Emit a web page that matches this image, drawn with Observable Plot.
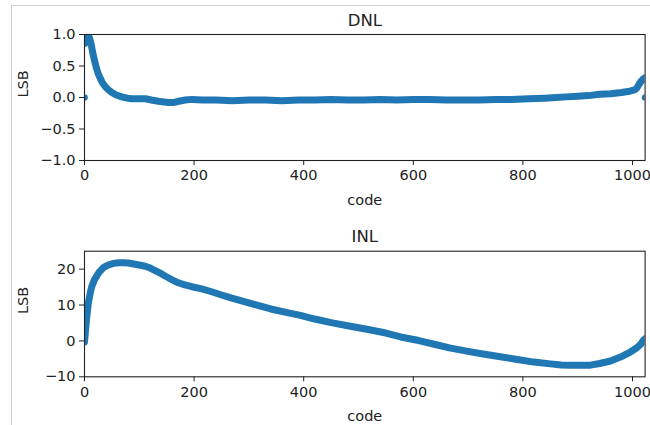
<!DOCTYPE html>
<html><head><meta charset="utf-8">
<script src="https://cdn.jsdelivr.net/npm/d3@7"></script>
<script src="https://cdn.jsdelivr.net/npm/@observablehq/plot@0.6"></script>
<style>
body{margin:0;background:#fff;width:650px;height:425px;overflow:hidden;}
#frame{position:absolute;left:11px;top:5px;width:700px;height:500px;border-top:1px solid #cfcfcf;border-left:1px solid #cfcfcf;}
#dnl{position:absolute;left:0;top:0;}
#inl{position:absolute;left:0;top:210px;}
</style></head><body>
<div id="frame"></div>
<div id="dnl"></div><div id="inl"></div>
<script>
// DNL (LSB) per code (codes 0 and 1023 are isolated points)
const dnlCodes = [0,1,3,6,9,12,14,16,19,22,25,29,33,38,44,50,58,68,78,86,96,111,122,135,145,153,162,172,184,196,215,240,270,300,330,360,390,420,450,480,510,540,570,600,630,660,690,720,750,780,810,840,860,880,900,920,940,960,980,995,1004,1008,1012,1016,1019,1022,1023];
const dnlValues = [0,0.86,0.97,0.99,0.95,0.85,0.76,0.67,0.56,0.46,0.38,0.30,0.23,0.17,0.12,0.08,0.04,0.01,-0.01,-0.02,-0.02,-0.02,-0.04,-0.06,-0.07,-0.08,-0.08,-0.06,-0.04,-0.03,-0.04,-0.04,-0.05,-0.04,-0.04,-0.05,-0.04,-0.04,-0.03,-0.04,-0.04,-0.03,-0.04,-0.03,-0.03,-0.04,-0.04,-0.04,-0.03,-0.03,-0.02,-0.01,0.00,0.01,0.02,0.03,0.05,0.06,0.08,0.10,0.12,0.15,0.21,0.26,0.29,0.31,0];
// INL (LSB) per code
const inlCodes = [0,2,4,7,10,13,18,26,35,44,53,62,71,80,95,111,120,129,138,147,159,171,183,196,214,232,250,269,290,311,340,370,394,420,450,485,520,550,577,610,640,668,700,730,759,790,820,850,870,887,905,923,940,960,978,996,1008,1015,1020,1023];
const inlValues = [-0.3,3.2,6.5,10.5,13,15,17,19,20.5,21.2,21.6,21.8,21.8,21.7,21.3,20.8,20.3,19.6,18.9,18.1,17.1,16.2,15.6,15.1,14.5,13.7,12.8,11.9,11.0,10.1,8.9,7.9,7.1,6.1,5.1,4.1,3.1,2.2,1.1,0.1,-1.0,-2.0,-2.9,-3.7,-4.4,-5.2,-5.9,-6.4,-6.7,-6.8,-6.8,-6.75,-6.3,-5.6,-4.5,-3.1,-1.9,-0.9,0.2,0.6];
const xTicks = [0,200,400,600,800,1000];
const dnlTicks = [-1,-0.5,0,0.5,1];
const inlTicks = [-10,0,10,20];

const blue = "#1f77b4";
const ink = "#222";

function panel({title, codes, values, isolated, yDomain, yTicks, yFormat, height, marginTop, marginBottom}) {
  const data = codes.map((c, i) => ({code: c, v: values[i]}));
  const lineData = data.filter(d => !isolated.includes(d.code));
  const dotData = data.filter(d => isolated.includes(d.code));
  return Plot.plot({
    width: 650, height, marginLeft: 84, marginRight: 5.4, marginTop, marginBottom,
    style: {fontFamily: "DejaVu Sans", fontSize: "14.5px", color: ink, background: "transparent", overflow: "visible"},
    x: {domain: [0, 1023]},
    y: {domain: yDomain},
    marks: [
      Plot.line(lineData, {x: "code", y: "v", stroke: blue, strokeWidth: 7, clip: true}),
      Plot.dot(dotData, {x: "code", y: "v", r: 3.3, fill: blue, stroke: "none", clip: true}),
      Plot.frame({stroke: ink, strokeWidth: 1.1}),
      Plot.axisX({ticks: xTicks, tickFormat: d3.format("d"), tickSize: 5, tickPadding: 4.5, label: null}),
      Plot.axisY({ticks: yTicks, tickFormat: yFormat, tickSize: 5, tickPadding: 4, label: null}),
      Plot.text([title], {text: d => d, frameAnchor: "top", lineAnchor: "bottom", dy: -9, fontSize: 16.5}),
      Plot.text(["code"], {text: d => d, frameAnchor: "bottom", lineAnchor: "middle", dy: 40, fontSize: 14.5}),
      Plot.text(["LSB"], {text: d => d, frameAnchor: "left", rotate: -90, dx: -61, fontSize: 14.5})
    ]
  });
}

document.getElementById("dnl").append(panel({
  title: "DNL", codes: dnlCodes, values: dnlValues, isolated: [0, 1023],
  yDomain: [-1, 1], yTicks: dnlTicks, yFormat: d3.format(".1f"),
  height: 210, marginTop: 34, marginBottom: 50
}));
document.getElementById("inl").append(panel({
  title: "INL", codes: inlCodes, values: inlValues, isolated: [],
  yDomain: [-10, 25], yTicks: inlTicks, yFormat: d3.format("d"),
  height: 215, marginTop: 40.7, marginBottom: 48.7
}));
</script>
</body></html>
